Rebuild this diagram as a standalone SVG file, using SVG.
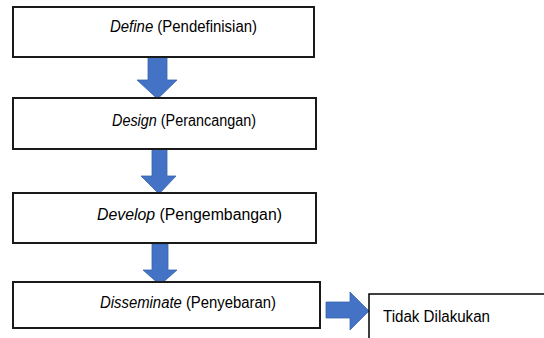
<svg xmlns="http://www.w3.org/2000/svg" width="544" height="338" viewBox="0 0 544 338">
<style>
.box{fill:#fff;stroke:#1a1a1a;stroke-width:2}
.t{font-family:"Liberation Sans",Arial,sans-serif;font-size:16px;fill:#000}
.arr{fill:#4472C4;stroke:#3b64ad;stroke-width:0.8}
</style>
<rect width="544" height="338" fill="#fff"/>
<g id="connectors">
<polygon class="arr" points="148,57 167,57 167,80 177,80 157.5,99 137,80 148,80"/>
<polygon class="arr" points="152,149 167,149 167,176 176,176 159,194 141,176 152,176"/>
<polygon class="arr" points="152,244 168,244 168,270 177,270 160,285 143,270 152,270"/>
<polygon class="arr" points="326,302 350,302 350,292 369,311 350,330 350,318 326,318"/>
</g>
<g id="define">
<rect class="box" x="13" y="7" width="301" height="50"/>
<text class="t" x="110" y="32" textLength="147" lengthAdjust="spacingAndGlyphs"><tspan font-style="italic">Define</tspan> (Pendefinisian)</text>
</g>
<g id="design">
<rect class="box" x="13" y="98" width="303" height="51"/>
<text class="t" x="112" y="126" textLength="144" lengthAdjust="spacingAndGlyphs"><tspan font-style="italic">Design</tspan> (Perancangan)</text>
</g>
<g id="develop">
<rect class="box" x="13" y="193" width="303" height="50"/>
<text class="t" x="97" y="220" textLength="185" lengthAdjust="spacingAndGlyphs"><tspan font-style="italic">Develop</tspan> (Pengembangan)</text>
</g>
<g id="disseminate">
<rect class="box" x="13" y="282" width="307" height="46"/>
<text class="t" x="100" y="308" textLength="176" lengthAdjust="spacingAndGlyphs"><tspan font-style="italic">Disseminate</tspan> (Penyebaran)</text>
</g>
<g id="tidak">
<rect class="box" x="369" y="294" width="190" height="60" style="stroke:#000;stroke-width:1.5"/>
<text class="t" x="383" y="322" textLength="107" lengthAdjust="spacingAndGlyphs">Tidak Dilakukan</text>
</g>
</svg>
